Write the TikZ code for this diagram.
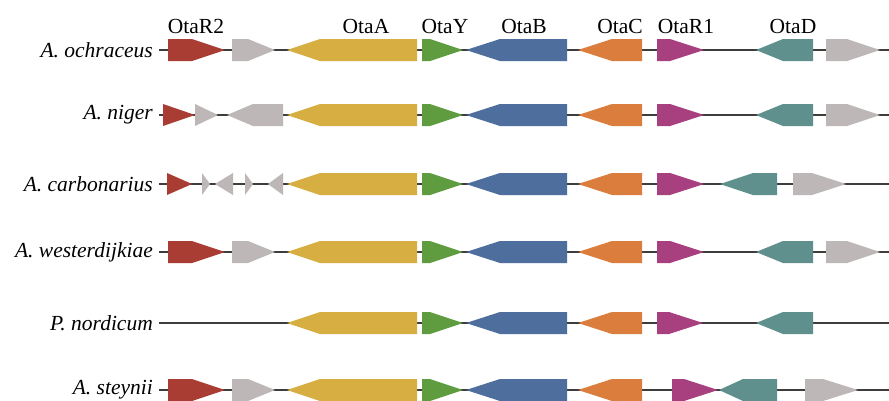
\documentclass[tikz,border=0pt]{standalone}
\usepackage{fontspec}
\setmainfont{Liberation Serif}
\definecolor{gred}{HTML}{A93D34}
\definecolor{ggray}{HTML}{BDB7B7}
\definecolor{gyellow}{HTML}{D6AE41}
\definecolor{ggreen}{HTML}{5E9C3F}
\definecolor{gblue}{HTML}{4E6E9E}
\definecolor{gorange}{HTML}{DB7D3C}
\definecolor{gmagenta}{HTML}{A8407F}
\definecolor{gteal}{HTML}{5F908E}
\definecolor{backbone}{HTML}{3F3C3C}
% forward gene: colour, row y, start x, tip x, head length
\newcommand{\genefwd}[5]{%
  \fill[#1] (#3,{#2-11}) -- ({#4-#5},{#2-11}) -- (#4,#2) -- ({#4-#5},{#2+11}) -- (#3,{#2+11}) -- cycle;}
% reverse gene: colour, row y, tip x, end x, head length
\newcommand{\generev}[5]{%
  \fill[#1] (#3,#2) -- ({#3+#5},{#2-11}) -- (#4,{#2-11}) -- (#4,{#2+11}) -- ({#3+#5},{#2+11}) -- cycle;}
% conserved core OtaA, OtaY, OtaB, OtaC
\newcommand{\genecore}[1]{%
  \generev{gyellow}{#1}{287}{417}{33}
  \genefwd{ggreen}{#1}{422}{463}{33}
  \generev{gblue}{#1}{466}{567}{34}
  \generev{gorange}{#1}{578}{642}{34}}
\begin{document}
\begin{tikzpicture}[x=1pt,y=-1pt,
  species/.style={anchor=east,inner sep=0pt,font=\fontsize{21.5}{25}\selectfont\itshape},
  header/.style={anchor=base,inner sep=0pt,font=\fontsize{21.5}{25}\selectfont},
  strand/.style={draw=backbone,line width=1.8pt}]
\useasboundingbox (0,0) rectangle (889,400);
\fill[white] (0,0) rectangle (889,400);

% gene names
\node[header] (hR2) at (196,33) {OtaR2};
\node[header] (hA)  at (366,33) {OtaA};
\node[header] (hY)  at (445,33) {OtaY};
\node[header] (hB)  at (524,33) {OtaB};
\node[header] (hC)  at (620,33) {OtaC};
\node[header] (hR1) at (686,33) {OtaR1};
\node[header] (hD)  at (793,33) {OtaD};

% species and backbones
\foreach \name/\txt/\yy in {och/A. ochraceus/50, nig/A. niger/115, car/A. carbonarius/184,
    wes/A. westerdijkiae/252, nor/P. nordicum/323, ste/A. steynii/390}{
  \node[species] (\name) at (153,\yy) {\txt};
  \coordinate (\name end) at (889,\yy);
  \draw[strand] (\name.east) ++(6,0) -- (\name end);
}

% A. ochraceus
\genefwd{gred}{50}{168}{225}{33}
\genefwd{ggray}{50}{232}{275}{27}
\genecore{50}
\genefwd{gmagenta}{50}{657}{704}{34}
\generev{gteal}{50}{756}{813}{27}
\genefwd{ggray}{50}{826}{880}{33}

% A. niger
\genefwd{gred}{115}{163}{195}{32}
\genefwd{ggray}{115}{195}{218}{23}
\generev{ggray}{115}{227}{283}{26}
\genecore{115}
\genefwd{gmagenta}{115}{657}{704}{34}
\generev{gteal}{115}{756}{813}{27}
\genefwd{ggray}{115}{826}{880}{33}

% A. carbonarius
\genefwd{gred}{184}{167}{192}{25}
\genefwd{ggray}{184}{202}{210}{8}
\generev{ggray}{184}{215}{233}{18}
\genefwd{ggray}{184}{245}{253}{8}
\generev{ggray}{184}{268}{283}{15}
\genecore{184}
\genefwd{gmagenta}{184}{657}{704}{34}
\generev{gteal}{184}{720}{777}{33}
\genefwd{ggray}{184}{793}{846}{34}

% A. westerdijkiae
\genefwd{gred}{252}{168}{225}{33}
\genefwd{ggray}{252}{232}{275}{27}
\genecore{252}
\genefwd{gmagenta}{252}{657}{704}{34}
\generev{gteal}{252}{756}{813}{27}
\genefwd{ggray}{252}{826}{880}{33}

% P. nordicum
\genecore{323}
\genefwd{gmagenta}{323}{657}{703}{34}
\generev{gteal}{323}{756}{813}{27}

% A. steynii
\genefwd{gred}{390}{168}{225}{33}
\genefwd{ggray}{390}{232}{275}{27}
\genecore{390}
\genefwd{gmagenta}{390}{672}{718}{34}
\generev{gteal}{390}{719}{777}{24}
\genefwd{ggray}{390}{805}{858}{35}
\end{tikzpicture}
\end{document}
